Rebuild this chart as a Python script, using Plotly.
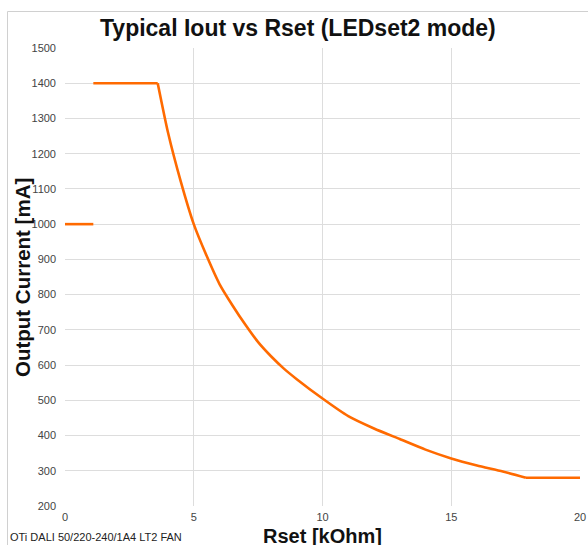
import plotly.graph_objects as go

# Data
seg1_x = [0.0, 1.1]
seg1_y = [1000, 1000]
seg2_x = [1.1, 3.6]
seg2_y = [1400, 1400]
curve_x = [3.6, 4.0, 4.5, 5.0, 5.5, 6.0, 6.5, 7.0, 7.5, 8.0, 8.5, 9.0, 10.0, 11.0, 12.0, 13.0, 14.0, 15.0, 16.0, 17.0, 17.9]
curve_y = [1400, 1260, 1120, 1000, 910, 830, 770, 715, 665, 625, 590, 560, 505, 455, 420, 390, 360, 335, 315, 298, 280]
flat_x = [17.9, 20.0]
flat_y = [280, 280]

x_ticks = [0, 5, 10, 15, 20]
y_ticks = [200, 300, 400, 500, 600, 700, 800, 900, 1000, 1100, 1200, 1300, 1400, 1500]

line_color = "#FF6A00"
font_family = "Liberation Sans, Arial, sans-serif"
tick_color = "#444444"

W, H = 588, 545
L, R, T, B = 65, 8, 48, 39
pw, ph = W - L - R, H - T - B

def px(xp):
    return (xp - L) / pw

def py(yp):
    return (H - B - yp) / ph

fig = go.Figure()
for xs, ys in [(seg1_x, seg1_y), (seg2_x, seg2_y), (flat_x, flat_y)]:
    fig.add_trace(go.Scatter(x=xs, y=ys, mode="lines",
                             line=dict(color=line_color, width=2.6),
                             showlegend=False, hoverinfo="skip"))
fig.add_trace(go.Scatter(x=curve_x, y=curve_y, mode="lines",
                         line=dict(color=line_color, width=2.6, shape="spline", smoothing=0.6),
                         showlegend=False, hoverinfo="skip"))

fig.update_layout(
    width=W, height=H,
    margin=dict(l=L, r=R, t=T, b=B, autoexpand=False),
    paper_bgcolor="white", plot_bgcolor="white",
    font=dict(family=font_family, color=tick_color),
    xaxis=dict(range=[0, 20], tickvals=x_ticks, showgrid=True, gridcolor="#DDDDDD",
               gridwidth=1, zeroline=False, showline=False, ticks="",
               automargin=False, ticklabelstandoff=3,
               tickfont=dict(size=11, color=tick_color)),
    yaxis=dict(range=[200, 1500], tickvals=y_ticks, showgrid=True, gridcolor="#DDDDDD",
               gridwidth=1, zeroline=False, showline=False, ticks="",
               automargin=False, ticklabelstandoff=8,
               tickfont=dict(size=11, color=tick_color)),
)

# Outer chart border (light grey)
fig.add_shape(type="rect", xref="paper", yref="paper",
              x0=px(7.5), x1=px(W + 5), y0=py(H + 5), y1=py(11.5),
              line=dict(color="#D0D0D0", width=1), layer="above")

# Chart title
fig.add_annotation(text="<b>Typical Iout vs Rset (LEDset2 mode)</b>", xref="paper", yref="paper",
                   x=px(298), y=py(28), xanchor="center", yanchor="middle", showarrow=False,
                   font=dict(size=23, color="#111111", family=font_family))

# Axis titles
fig.add_annotation(text="<b>Rset [kOhm]</b>", xref="paper", yref="paper",
                   x=px(322), y=py(536), xanchor="center", yanchor="middle", showarrow=False,
                   font=dict(size=20, color="#111111", family=font_family))
fig.add_annotation(text="<b>Output Current [mA]</b>", xref="paper", yref="paper",
                   x=px(22), y=py(278), xanchor="center", yanchor="middle", showarrow=False,
                   textangle=-90,
                   font=dict(size=20.5, color="#111111", family=font_family))

# Footnote
fig.add_annotation(text="OTi DALI 50/220-240/1A4 LT2 FAN", xref="paper", yref="paper",
                   x=px(8), y=py(537), xanchor="left", yanchor="middle", showarrow=False,
                   font=dict(size=11, color="#222222", family=font_family))

fig.write_html("out.html", config={"displayModeBar": False},
               post_script="document.body.style.margin='0';document.body.style.overflow='hidden';")
